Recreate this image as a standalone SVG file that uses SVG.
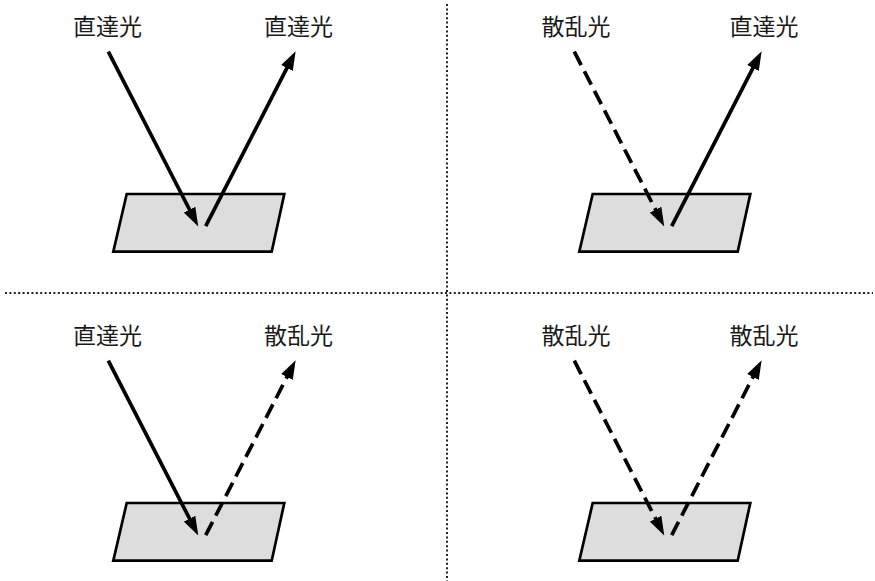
<svg xmlns="http://www.w3.org/2000/svg" width="875" height="581" viewBox="0 0 875 581">
<style>
.lbl{font-family:"Noto Sans CJK JP","Noto Sans CJK SC",sans-serif;font-size:23px;fill:#1a1a1a;text-anchor:middle}
.surf{fill:#dddddd;stroke:#000;stroke-width:2.7;stroke-linejoin:miter}
.ray{fill:none;stroke:#000;stroke-width:3.7;marker-end:url(#ah)}
.dash{stroke-dasharray:15 7}
.sep{fill:none;stroke:#222;stroke-width:2;stroke-dasharray:2 2.4}
</style>
<defs>
<marker id="ah" viewBox="0 0 19 13" markerWidth="19" markerHeight="13" refX="6" refY="6.5" orient="auto" markerUnits="userSpaceOnUse">
<path d="M0,0 L19,6.5 L0,13 z" fill="#000"/>
</marker>
<polygon id="para" points="126.7,194 284.3,194 271.7,251.7 113.3,251.7"/>
</defs>
<rect width="875" height="581" fill="#fff"/>
<g id="separators">
<line class="sep" x1="447" y1="4" x2="447" y2="581"/>
<line class="sep" x1="5" y1="293" x2="873" y2="293"/>
</g>
<g id="surface-tl"><use href="#para" class="surf"/></g>
<g id="surface-tr" transform="translate(466,0)"><use href="#para" class="surf"/></g>
<g id="surface-bl" transform="translate(0,309)"><use href="#para" class="surf"/></g>
<g id="surface-br" transform="translate(466,309)"><use href="#para" class="surf"/></g>
<g id="label-tl-in"><text class="lbl" x="107.5" y="35">直達光</text></g>
<g id="label-tl-out"><text class="lbl" x="298.5" y="35">直達光</text></g>
<g id="label-tr-in"><text class="lbl" x="576" y="35">散乱光</text></g>
<g id="label-tr-out"><text class="lbl" x="764" y="35">直達光</text></g>
<g id="label-bl-in"><text class="lbl" x="107.5" y="344">直達光</text></g>
<g id="label-bl-out"><text class="lbl" x="298.5" y="344">散乱光</text></g>
<g id="label-br-in"><text class="lbl" x="576" y="344">散乱光</text></g>
<g id="label-br-out"><text class="lbl" x="764" y="344">散乱光</text></g>
<g id="connectors">
<line class="ray" x1="108.3" y1="51.7" x2="192.3" y2="215"/>
<line class="ray" x1="205.7" y1="226.2" x2="289.7" y2="62.7"/>
<line class="ray dash" x1="574.3" y1="51.7" x2="658.3" y2="215"/>
<line class="ray" x1="671.7" y1="226.2" x2="755.7" y2="62.7"/>
<line class="ray" x1="108.3" y1="360.7" x2="192.3" y2="524"/>
<line class="ray dash" x1="205.7" y1="535.2" x2="289.7" y2="371.7"/>
<line class="ray dash" x1="574.3" y1="360.7" x2="658.3" y2="524"/>
<line class="ray dash" x1="671.7" y1="535.2" x2="755.7" y2="371.7"/>
</g>
</svg>
